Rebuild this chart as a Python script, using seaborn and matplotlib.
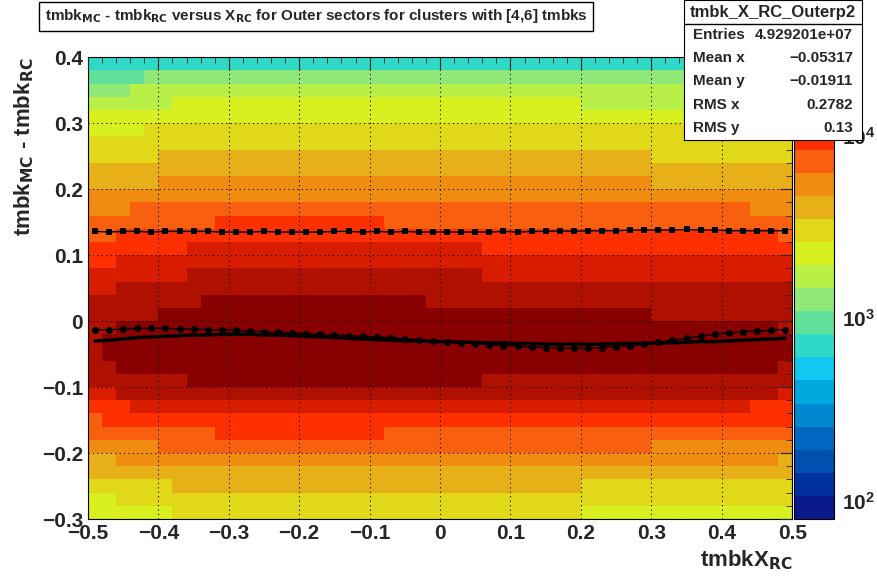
import numpy as np
import matplotlib
matplotlib.use("Agg")
import matplotlib.pyplot as plt
import seaborn as sns
from matplotlib.colors import ListedColormap, LogNorm
from matplotlib.ticker import MultipleLocator, LogLocator

sns.set_style("white")
plt.rcParams['font.family'] = ['Liberation Sans', 'DejaVu Sans']
plt.rcParams['font.weight'] = 'bold'
plt.rcParams['mathtext.default'] = 'bf'

# y-profile (log10 counts) at y bin centers -0.29..0.39 (step 0.02)
y_centers = [-0.29,-0.27,-0.25,-0.23,-0.21,-0.19,-0.17,-0.15,-0.13,-0.11,-0.09,-0.07,-0.05,-0.03,-0.01,
             0.01,0.03,0.05,0.07,0.09,0.11,0.13,0.15,0.17,0.19,0.21,0.23,0.25,0.27,0.29,0.31,0.33,0.35,0.37,0.39]
y_logcounts = [3.45,3.5,3.58,3.66,3.75,3.84,3.93,4.02,4.12,4.25,4.33,4.38,4.4,4.4,4.38,
               4.35,4.32,4.26,4.2,4.14,4.08,4.0,3.93,3.86,3.79,3.72,3.65,3.59,3.53,3.47,3.41,3.33,3.23,3.09,2.9]
# x modulation (log10 offset) at x bin centers -0.49..0.49 (step 0.02)
x_centers = [round(-0.49 + 0.02*i, 2) for i in range(50)]
x_logoffset = [-0.1,-0.09,-0.07,-0.06,-0.05,-0.04,-0.03,-0.02,-0.01,0.0,
               0.0,0.0,0.0,0.0,0.0,0.0,0.0,0.0,0.0,0.0,
               0.0,-0.01,-0.01,-0.01,-0.02,-0.02,-0.02,-0.02,-0.03,-0.03,
               -0.03,-0.03,-0.03,-0.03,-0.03,-0.04,-0.04,-0.04,-0.04,-0.04,
               -0.05,-0.05,-0.05,-0.05,-0.06,-0.06,-0.06,-0.07,-0.07,-0.08]
# profiles vs x
prof_square = [0.136,0.135,0.136,0.136,0.135,0.136,0.136,0.136,0.136,0.135,
               0.135,0.135,0.136,0.135,0.135,0.135,0.135,0.136,0.136,0.135,
               0.136,0.135,0.136,0.135,0.135,0.135,0.135,0.135,0.135,0.136,
               0.135,0.136,0.136,0.137,0.136,0.137,0.137,0.137,0.138,0.138,
               0.138,0.138,0.139,0.138,0.138,0.137,0.137,0.137,0.137,0.137]
prof_circle = [-0.013,-0.013,-0.012,-0.011,-0.011,-0.011,-0.012,-0.012,-0.013,-0.013,
               -0.014,-0.015,-0.016,-0.017,-0.018,-0.019,-0.02,-0.021,-0.022,-0.023,
               -0.024,-0.025,-0.027,-0.028,-0.03,-0.031,-0.033,-0.034,-0.036,-0.037,
               -0.038,-0.039,-0.04,-0.041,-0.041,-0.041,-0.04,-0.039,-0.037,-0.035,
               -0.032,-0.029,-0.026,-0.023,-0.02,-0.018,-0.016,-0.015,-0.014,-0.013]
prof_mean = [-0.030,-0.029,-0.027,-0.025,-0.024,-0.023,-0.022,-0.021,-0.021,-0.020,
             -0.020,-0.020,-0.021,-0.021,-0.022,-0.023,-0.024,-0.025,-0.026,-0.027,
             -0.028,-0.029,-0.030,-0.030,-0.031,-0.031,-0.032,-0.032,-0.033,-0.033,
             -0.034,-0.034,-0.035,-0.035,-0.035,-0.035,-0.035,-0.034,-0.034,-0.034,
             -0.033,-0.033,-0.032,-0.031,-0.031,-0.030,-0.029,-0.028,-0.027,-0.026]

palette = ['#0a1a8c','#0030a0','#0050b0','#0068c0','#0088d0','#00a8e0','#10c8f0','#30d8c8',
           '#60e098','#90e878','#b8f048','#d8f020','#e0d818','#e8b018','#f08c10','#f86010',
           '#ff3000','#d81c00','#b01000','#880000']
cmap = ListedColormap(palette)
norm = LogNorm(vmin=79, vmax=27000)

Z = np.array(y_logcounts)[:, None] + np.array(x_logoffset)[None, :]
counts = 10 ** Z
xe = np.linspace(-0.5, 0.5, 51)
ye = np.linspace(-0.3, 0.4, 36)

fig = plt.figure(figsize=(8.78, 5.78), dpi=100)
ax = fig.add_axes([0.1002, 0.102, 0.802, 0.799])
mesh = ax.pcolormesh(xe, ye, counts, cmap=cmap, norm=norm)
ax.set_xlim(-0.5, 0.5); ax.set_ylim(-0.3, 0.4)

sns.lineplot(x=x_centers, y=prof_mean, ax=ax, color='black', lw=2.5)
sns.lineplot(x=x_centers, y=prof_square, ax=ax, color='black', lw=1, marker='s', markersize=5, markeredgewidth=0)
sns.lineplot(x=x_centers, y=prof_circle, ax=ax, color='black', lw=1, marker='o', markersize=5, markeredgewidth=0)

ax.xaxis.set_major_locator(MultipleLocator(0.1)); ax.xaxis.set_minor_locator(MultipleLocator(0.02))
ax.yaxis.set_major_locator(MultipleLocator(0.1)); ax.yaxis.set_minor_locator(MultipleLocator(0.02))
ax.tick_params(which='both', direction='in', top=True, right=True, labelsize=15)
ax.tick_params(which='major', length=9); ax.tick_params(which='minor', length=4)
ax.set_xticks([-0.5,-0.4,-0.3,-0.2,-0.1,0,0.1,0.2,0.3,0.4,0.5])
ax.set_xticklabels(['\u22120.5','\u22120.4','\u22120.3','\u22120.2','\u22120.1','0','0.1','0.2','0.3','0.4','0.5'])
ax.set_yticks([-0.3,-0.2,-0.1,0,0.1,0.2,0.3,0.4])
ax.set_yticklabels(['\u22120.3','\u22120.2','\u22120.1','0','0.1','0.2','0.3','0.4'])
ax.grid(True, which='major', color='black', ls=(0, (1, 3)), lw=0.8)
ax.set_axisbelow(False)
for s in ax.spines.values(): s.set_color('black')
ax.set_xlabel(r'tmbkX$_{\mathbf{RC}}$', fontsize=16, fontweight='bold', loc='right')
ax.set_ylabel(r'tmbk$_{\mathbf{MC}}$ - tmbk$_{\mathbf{RC}}$', fontsize=16, fontweight='bold', loc='top')

cax = fig.add_axes([794/878, 0.102, 40/878, 0.799])
cb = fig.colorbar(mesh, cax=cax)
cb.outline.set_color('black')
cax.tick_params(which='both', direction='in', right=True, labelsize=15, pad=6)
cax.tick_params(which='major', length=20); cax.tick_params(which='minor', length=8)
cax.yaxis.set_major_locator(LogLocator(base=10))

fig.text(0.0091 + 0.351, 0.972, r'tmbk$_{\mathbf{MC}}$ - tmbk$_{\mathbf{RC}}$ versus X$_{\mathbf{RC}}$ for Outer sectors for clusters with [4,6] tmbks',
         ha='center', va='center', fontsize=11, fontweight='bold',
         bbox=dict(boxstyle='square,pad=0.35', fc='white', ec='black', lw=1))

# stats box
sax = fig.add_axes([684/878, 1-140/578, 178/878, 140/578])
sax.set_xticks([]); sax.set_yticks([])
sax.set_xlim(0, 1); sax.set_ylim(0, 1)
for s in sax.spines.values(): s.set_color('black')
sax.axhline(1-24/140, color='black', lw=1)
sax.text(0.5, 1-12/140, 'tmbk_X_RC_Outerp2', ha='center', va='center', fontsize=12, fontweight='bold')
rows = [('Entries', '4.929201e+07'), ('Mean x', '\u22120.05317'), ('Mean y', '\u22120.01911'),
        ('RMS x', '0.2782'), ('RMS y', '0.13')]
for i, (k, v) in enumerate(rows):
    yy = 1 - (35 + i*23.2)/140
    sax.text(0.05, yy, k, ha='left', va='center', fontsize=11, fontweight='bold')
    sax.text(0.95, yy, v, ha='right', va='center', fontsize=11, fontweight='bold')

fig.savefig('out.png', dpi=100)
